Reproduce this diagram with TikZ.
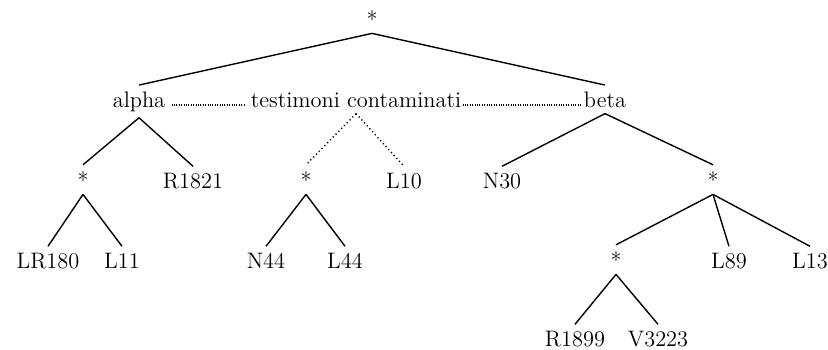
\documentclass[tikz,border=0pt]{standalone}
\begin{document}
\begin{tikzpicture}[x=0.5pt,y=-0.5pt,
  every node/.style={inner sep=3pt, anchor=base, font=\fontsize{11.2}{13}\selectfont},
  edge/.style={line width=0.7pt},
  dotedge/.style={line width=0.7pt, dash pattern=on 0.6pt off 1.4pt},
  hdots/.style={line width=0.7pt, dash pattern=on 0.4pt off 0.8pt}]
\useasboundingbox (0,0) rectangle (828,349);
\node (root) at (372,27) {*};
\node (alpha) at (139,107) {alpha};
\node (tc) at (356,107) {testimoni contaminati};
\node (beta) at (605,107) {beta};
\node (s1) at (83,188) {*};
\node (r1821) at (193,188) {R1821};
\node (s2) at (306,188) {*};
\node (l10) at (404,188) {L10};
\node (n30) at (502,188) {N30};
\node (s3) at (713,188) {*};
\node (lr180) at (48,268) {LR180};
\node (l11) at (122,268) {L11};
\node (n44) at (266,268) {N44};
\node (l44) at (345,268) {L44};
\node (s4) at (616,268) {*};
\node (l89) at (729,268) {L89};
\node (l13) at (810,268) {L13};
\node (r1899) at (575,346) {R1899};
\node (v3223) at (658,346) {V3223};
\draw[edge] (root.south) -- (alpha.north);
\draw[edge] (root.south) -- (beta.north);
\draw[hdots] ([yshift=1pt]alpha.base east) -- ([yshift=1pt]tc.base west);
\draw[hdots] ([xshift=-2.5pt,yshift=1pt]tc.base east) -- ([xshift=1.5pt,yshift=1pt]beta.base west);
\draw[edge] (alpha.south) -- (s1.north);
\draw[edge] (alpha.south) -- (r1821.north);
\draw[dotedge] (tc.south) -- (s2.north);
\draw[dotedge] (tc.south) -- (l10.north);
\draw[edge] (beta.south) -- (n30.north);
\draw[edge] (beta.south) -- (s3.north);
\draw[edge] (s1.south) -- (lr180.north);
\draw[edge] (s1.south) -- (l11.north);
\draw[edge] (s2.south) -- (n44.north);
\draw[edge] (s2.south) -- (l44.north);
\draw[edge] (s3.south) -- (s4.north);
\draw[edge] (s3.south) -- (l89.north);
\draw[edge] (s3.south) -- (l13.north);
\draw[edge] (s4.south) -- (r1899.north);
\draw[edge] (s4.south) -- (v3223.north);
\end{tikzpicture}
\end{document}
